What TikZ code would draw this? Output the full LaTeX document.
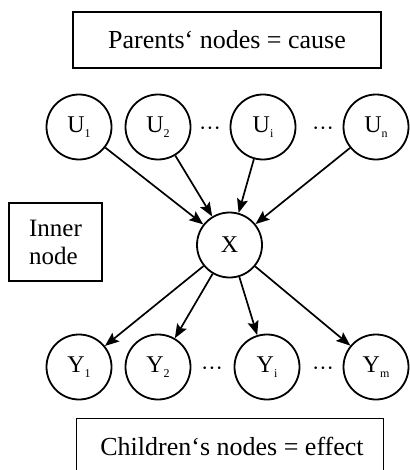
\documentclass[tikz,border=0pt]{standalone}
\usepackage{fontspec}
\setmainfont{Liberation Serif}
\usetikzlibrary{arrows.meta}
\newcommand{\lab}[2]{#1\raisebox{-0.22em}{\fontsize{12}{12}\selectfont #2}}
\begin{document}
\begin{tikzpicture}[x=1pt,y=-1pt,
  var/.style={circle,draw,line width=1.8pt,minimum size=65pt,inner sep=0pt,font=\fontsize{24}{24}\selectfont},
  box/.style={draw,line width=1.1pt,inner sep=0pt},
  arr/.style={line width=1.7pt,-{Stealth[length=14pt,width=11pt,inset=2.5pt]}},
  dots/.style={font=\fontsize{22}{22}\selectfont}]
\useasboundingbox (0,0) rectangle (409,470);
\node[box,minimum width=308pt,minimum height=56pt,font=\fontsize{26}{26}\selectfont] (top) at (227,40) {Parents‘ nodes = cause};
\node[box,minimum width=307pt,minimum height=60pt,anchor=north west] (bot) at (76,418) {};
\node[font=\fontsize{26}{26}\selectfont] (bottxt) at (232,446) {Children‘s nodes = effect};
\node[box,minimum width=93pt,minimum height=78pt,align=left,font=\fontsize{25}{28}\selectfont] (inner) at (55.5,242) {Inner\\node};
\node[var] (u1) at (79,127) {\lab{U}{1}};
\node[var] (u2) at (158,127) {\lab{U}{2}};
\node[var] (ui) at (263,127) {\lab{U}{i}};
\node[var] (un) at (376,127) {\lab{U}{n}};
\node[dots] (d1) at (210,131) {···};
\node[dots] (d2) at (323,131) {···};
\node[var] (x) at (229.5,245) {X};
\node[var] (y1) at (79,367) {\lab{Y}{1}};
\node[var] (y2) at (158,367) {\lab{Y}{2}};
\node[var] (yi) at (267,367) {\lab{Y}{i}};
\node[var] (ym) at (376,367) {\lab{Y}{m}};
\node[dots] (d3) at (212,371) {···};
\node[dots] (d4) at (323,371) {···};
\foreach \u in {u1,u2,ui,un} \draw[arr] (\u) -- (x);
\foreach \y in {y1,y2,yi,ym} \draw[arr] (x) -- (\y);
\end{tikzpicture}
\end{document}
